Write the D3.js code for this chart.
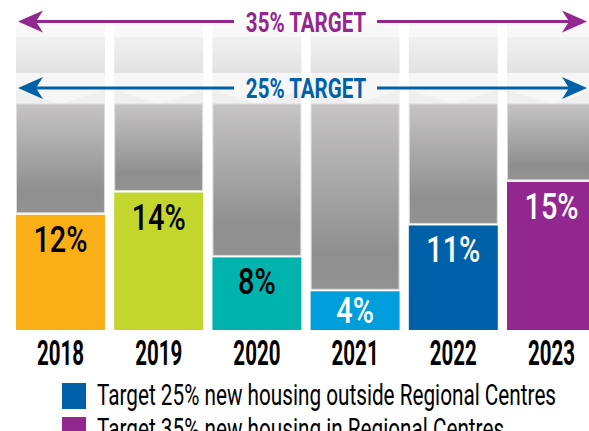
<!DOCTYPE html>
<html>
<head>
    <script type="text/javascript" src="https://d3js.org/d3.v7.min.js"></script>
    <style>
        body { margin: 0; background: #ffffff; }
        svg { display: block; }
        .narrow { font-family: Roboto, "Noto Sans", sans-serif; }
    </style>
</head>
<body>
    <div id="container"></div>
    <script>
        // chart data
        var years = ["2018", "2019", "2020", "2021", "2022", "2023"];
        var shares = [11.9, 14.2, 7.5, 4.0, 10.8, 15.3];
        var shareLabels = ["12%", "14%", "8%", "4%", "11%", "15%"];
        var barColors = ["#fbaf17", "#c2d62e", "#00b3ad", "#009fdb", "#0061a8", "#92278f"];
        var labelColors = ["#000", "#000", "#000", "#fff", "#fff", "#fff"];
        var targets = [35, 25];
        var targetLabels = ["35% TARGET", "25% TARGET"];
        var targetColors = ["#92278f", "#0061a8"];
        var legendLabels = ["Target 25% new housing outside Regional Centres",
                            "Target 35% new housing in Regional Centres"];
        var legendColors = ["#0061a8", "#92278f"];

        var width = 589, height = 431;

        var svg = d3.select("#container").append("svg")
            .attr("width", width)
            .attr("height", height);

        // scales (the chart is not to scale above 25%, so the y scale has a break)
        var x = d3.scaleBand().domain(years).range([16, 596]).paddingInner(0.094);
        var y = d3.scaleLinear().domain([0, 25, 35]).range([330, 88, 21.5]);

        // squeeze text horizontally to mimic the condensed typeface
        function place(cx, cy, s) {
            return "translate(" + cx + "," + cy + ") scale(" + s + ",1)";
        }

        var data = years.map(function(yr, i) {
            return { year: yr, value: shares[i], label: shareLabels[i], color: barColors[i], text: labelColors[i] };
        });

        var defs = svg.append("defs");
        var g1 = defs.append("linearGradient").attr("id", "darkGrey")
            .attr("x1", 0).attr("y1", 0).attr("x2", 0).attr("y2", 1);
        g1.append("stop").attr("offset", "0%").attr("stop-color", "#c6c4c5");
        g1.append("stop").attr("offset", "80%").attr("stop-color", "#8f8f8f");
        g1.append("stop").attr("offset", "100%").attr("stop-color", "#929292");
        var g2 = defs.append("linearGradient").attr("id", "lightGrey")
            .attr("x1", 0).attr("y1", 0).attr("x2", 0).attr("y2", 1);
        g2.append("stop").attr("offset", "0%").attr("stop-color", "#f1f1f1");
        g2.append("stop").attr("offset", "100%").attr("stop-color", "#e2e2e2");

        var cols = svg.selectAll(".col").data(data).enter().append("g")
            .attr("class", "col")
            .attr("transform", function(d) { return "translate(" + x(d.year) + ",0)"; });

        // faint top band
        cols.append("rect")
            .attr("y", y(35) + 2)
            .attr("width", x.bandwidth())
            .attr("height", 13.5)
            .attr("fill", "#f8f8f8");

        // light grey band between the targets
        cols.append("rect")
            .attr("y", y(35) + 15.5)
            .attr("width", x.bandwidth())
            .attr("height", (y(25) - 15) - (y(35) + 15.5))
            .attr("fill", "url(#lightGrey)");

        // faint band around the 25% arrow
        cols.append("rect")
            .attr("y", y(25) - 15)
            .attr("width", x.bandwidth())
            .attr("height", 31)
            .attr("fill", "#f6f6f6");
        cols.append("path")
            .attr("d", function() {
                var w = x.bandwidth(), b = y(25) + 16;
                return "M0," + (b - 14) + "L" + (w / 2) + "," + b + "L" + w + "," + (b - 14) + "L" + w + "," + b + "L0," + b + "Z";
            })
            .attr("fill", "#efefef");

        // dark grey remainder column
        cols.append("rect")
            .attr("x", 0.5)
            .attr("y", y(25) + 16)
            .attr("width", x.bandwidth() - 1)
            .attr("height", function(d) { return y(d.value) - 2 - (y(25) + 16); })
            .attr("fill", "url(#darkGrey)")
            .attr("stroke", "#dcdcdc")
            .attr("stroke-width", 1);

        // coloured bars
        cols.append("rect")
            .attr("y", function(d) { return y(d.value); })
            .attr("width", x.bandwidth())
            .attr("height", function(d) { return y(0) - y(d.value); })
            .attr("fill", function(d) { return d.color; });

        cols.append("text")
            .attr("class", "narrow")
            .attr("transform", function(d) {
                return place(x.bandwidth() / 2, Math.min(y(d.value) + 37, y(0) - 7), 0.78);
            })
            .attr("text-anchor", "middle")
            .style("font-size", "37px")
            .style("font-weight", "500")
            .attr("fill", function(d) { return d.text; })
            .text(function(d) { return d.label; });

        // year labels
        svg.append("g").selectAll("text").data(years).enter().append("text")
            .attr("class", "narrow")
            .attr("transform", function(d) { return place(x(d) + x.bandwidth() / 2, 365, 0.57); })
            .attr("text-anchor", "middle")
            .style("font-size", "36px")
            .style("font-weight", "bold")
            .attr("fill", "#000")
            .text(function(d) { return d; });

        // target arrows
        var mid = (x.range()[0] + x.range()[1]) / 2;
        var left = 18, right = 587;
        targets.forEach(function(t, i) {
            var yy = y(t), c = targetColors[i];
            var g = svg.append("g");
            g.append("line").attr("x1", left + 12).attr("x2", mid - 72)
                .attr("y1", yy).attr("y2", yy).attr("stroke", c).attr("stroke-width", 3);
            g.append("line").attr("x1", mid + 71).attr("x2", right - 12)
                .attr("y1", yy).attr("y2", yy).attr("stroke", c).attr("stroke-width", 3);
            g.append("path")
                .attr("d", "M" + left + "," + yy + "L" + (left + 25) + "," + (yy - 11) +
                    "L" + (left + 18) + "," + yy + "L" + (left + 25) + "," + (yy + 11) + "Z")
                .attr("fill", c);
            g.append("path")
                .attr("d", "M" + right + "," + yy + "L" + (right - 25) + "," + (yy - 11) +
                    "L" + (right - 18) + "," + yy + "L" + (right - 25) + "," + (yy + 11) + "Z")
                .attr("fill", c);
            g.append("text")
                .attr("class", "narrow")
                .attr("transform", place(mid, yy + 10, 0.76))
                .attr("text-anchor", "middle")
                .style("font-size", "27px")
                .style("font-weight", "bold")
                .attr("fill", c)
                .text(targetLabels[i]);
        });

        // legend
        var legend = svg.append("g").selectAll("g").data(legendLabels).enter().append("g")
            .attr("transform", function(d, i) { return "translate(62," + (383 + i * 34) + ")"; });
        legend.append("rect")
            .attr("width", 24).attr("height", 26)
            .attr("fill", function(d, i) { return legendColors[i]; });
        legend.append("text")
            .attr("class", "narrow")
            .attr("transform", place(35, 22, 0.715))
            .style("font-size", "29px")
            .attr("fill", "#000")
            .text(function(d) { return d; });
    </script>
</body>
</html>
